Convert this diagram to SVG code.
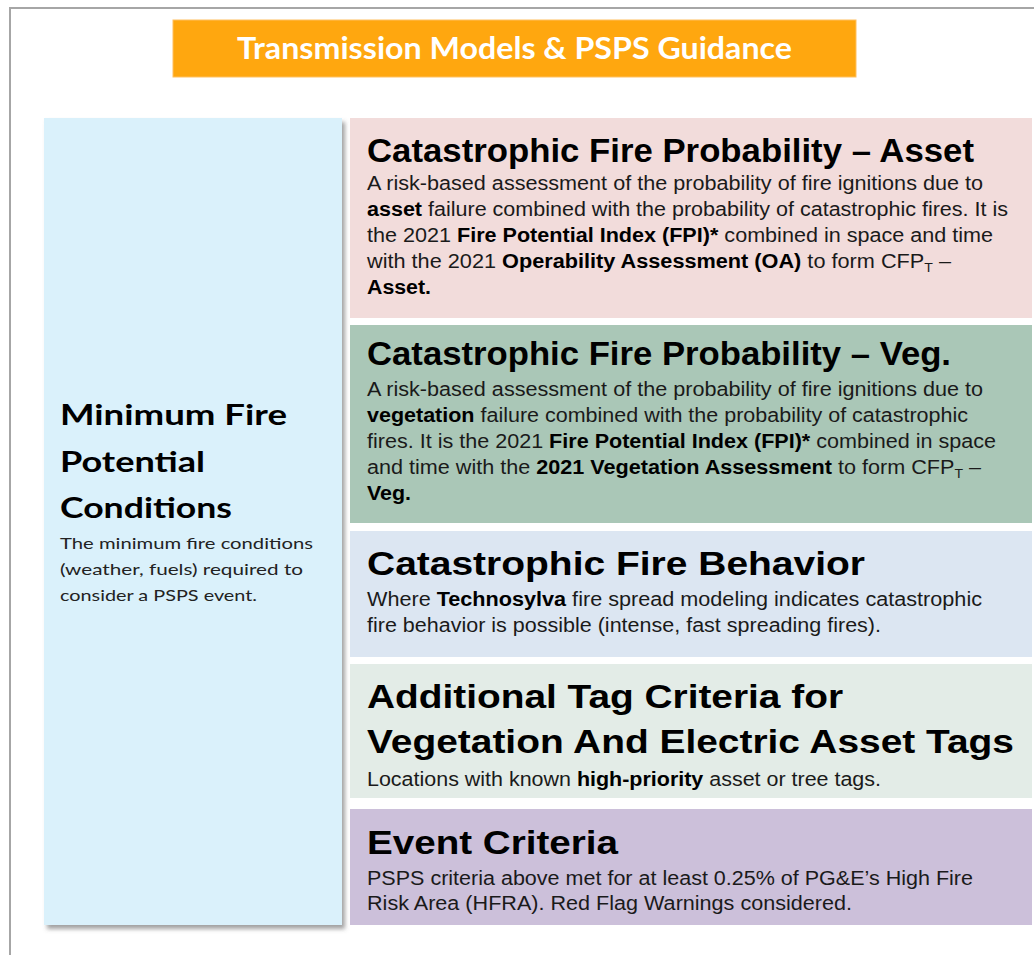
<svg xmlns="http://www.w3.org/2000/svg" width="1034" height="955" viewBox="0 0 1034 955">
<defs>
<filter id="shadow" x="-5%" y="-5%" width="115%" height="115%">
<feDropShadow dx="3" dy="4" stdDeviation="2" flood-color="#555" flood-opacity="0.55"/>
</filter>
<style>
.h{font-family:"Liberation Sans",Arial,sans-serif;font-weight:bold;font-size:33px;fill:#000}
.b{font-family:"Liberation Sans",Arial,sans-serif;font-size:20px;fill:#1a1a1a}
.b tspan.k{font-weight:bold;fill:#000}
.sub{font-size:13px}
.lh{font-family:Lato,"Open Sans",sans-serif;font-weight:bold;font-size:29px;fill:#000}
.lb{font-family:Lato,"Open Sans",sans-serif;font-size:16px;fill:#222}
.title{font-family:Lato,"Open Sans",sans-serif;font-weight:bold;font-size:30px;fill:#fff}
</style>
</defs>
<rect width="1034" height="955" fill="#fff"/>
<path d="M10 955 V8 H1034" fill="none" stroke="#a6a6a6" stroke-width="2"/>

<g id="title">
<rect x="173" y="20" width="683" height="57" fill="#FFA70F" stroke="#FFC060" stroke-width="1"/>
<text class="title" x="237" y="59" textLength="555" lengthAdjust="spacingAndGlyphs">Transmission Models &amp; PSPS Guidance</text>
</g>

<g id="min-fire-potential">
<rect x="44" y="118" width="298" height="807" fill="#DAF1FB" filter="url(#shadow)"/>
<text class="lh" x="60" y="425" textLength="227" lengthAdjust="spacingAndGlyphs">Minimum Fire</text>
<text class="lh" x="60" y="472" textLength="145" lengthAdjust="spacingAndGlyphs">Potential</text>
<text class="lh" x="60" y="518" textLength="172" lengthAdjust="spacingAndGlyphs">Conditions</text>
<text class="lb" x="60" y="549" textLength="253" lengthAdjust="spacingAndGlyphs">The minimum fire conditions</text>
<text class="lb" x="60" y="575" textLength="243" lengthAdjust="spacingAndGlyphs">(weather, fuels) required to</text>
<text class="lb" x="60" y="601" textLength="197" lengthAdjust="spacingAndGlyphs">consider a PSPS event.</text>
</g>

<g id="cfp-asset">
<rect x="350" y="118" width="682" height="200" fill="#F2DCDB"/>
<text class="h" x="367" y="162" textLength="607" lengthAdjust="spacingAndGlyphs">Catastrophic Fire Probability – Asset</text>
<text class="b" x="367" y="190" textLength="616" lengthAdjust="spacingAndGlyphs">A risk-based assessment of the probability of fire ignitions due to</text>
<text class="b" x="367" y="216" textLength="641" lengthAdjust="spacingAndGlyphs"><tspan class="k">asset</tspan> failure combined with the probability of catastrophic fires. It is</text>
<text class="b" x="367" y="242" textLength="626" lengthAdjust="spacingAndGlyphs">the 2021 <tspan class="k">Fire Potential Index (FPI)*</tspan> combined in space and time</text>
<text class="b" x="367" y="268" textLength="584" lengthAdjust="spacingAndGlyphs">with the 2021 <tspan class="k">Operability Assessment (OA)</tspan> to form CFP<tspan class="sub" dy="4">T</tspan><tspan dy="-4"> –</tspan></text>
<text class="b" x="367" y="294" textLength="64" lengthAdjust="spacingAndGlyphs"><tspan class="k">Asset.</tspan></text>
</g>

<g id="cfp-veg">
<rect x="350" y="325" width="682" height="198" fill="#AAC7B7"/>
<text class="h" x="367" y="365" textLength="584" lengthAdjust="spacingAndGlyphs">Catastrophic Fire Probability – Veg.</text>
<text class="b" x="367" y="396" textLength="616" lengthAdjust="spacingAndGlyphs">A risk-based assessment of the probability of fire ignitions due to</text>
<text class="b" x="367" y="422" textLength="601" lengthAdjust="spacingAndGlyphs"><tspan class="k">vegetation</tspan> failure combined with the probability of catastrophic</text>
<text class="b" x="367" y="448" textLength="629" lengthAdjust="spacingAndGlyphs">fires. It is the 2021 <tspan class="k">Fire Potential Index (FPI)*</tspan> combined in space</text>
<text class="b" x="367" y="474" textLength="614" lengthAdjust="spacingAndGlyphs">and time with the <tspan class="k">2021 Vegetation Assessment</tspan> to form CFP<tspan class="sub" dy="4">T</tspan><tspan dy="-4"> –</tspan></text>
<text class="b" x="367" y="500" textLength="44" lengthAdjust="spacingAndGlyphs"><tspan class="k">Veg.</tspan></text>
</g>

<g id="cf-behavior">
<rect x="350" y="531" width="682" height="126" fill="#DCE6F2"/>
<text class="h" x="367" y="575" textLength="498" lengthAdjust="spacingAndGlyphs">Catastrophic Fire Behavior</text>
<text class="b" x="367" y="606" textLength="615" lengthAdjust="spacingAndGlyphs">Where <tspan class="k">Technosylva</tspan> fire spread modeling indicates catastrophic</text>
<text class="b" x="367" y="632" textLength="514" lengthAdjust="spacingAndGlyphs">fire behavior is possible (intense, fast spreading fires).</text>
</g>

<g id="tag-criteria">
<rect x="350" y="664" width="682" height="134" fill="#E3ECE7"/>
<text class="h" x="367" y="708" textLength="476" lengthAdjust="spacingAndGlyphs">Additional Tag Criteria for</text>
<text class="h" x="367" y="753" textLength="647" lengthAdjust="spacingAndGlyphs">Vegetation And Electric Asset Tags</text>
<text class="b" x="367" y="786" textLength="514" lengthAdjust="spacingAndGlyphs">Locations with known <tspan class="k">high-priority</tspan> asset or tree tags.</text>
</g>

<g id="event-criteria">
<rect x="350" y="809" width="682" height="116" fill="#CCC0DA"/>
<text class="h" x="367" y="854" textLength="251" lengthAdjust="spacingAndGlyphs">Event Criteria</text>
<text class="b" x="367" y="885" textLength="606" lengthAdjust="spacingAndGlyphs">PSPS criteria above met for at least 0.25% of PG&amp;E’s High Fire</text>
<text class="b" x="367" y="910" textLength="485" lengthAdjust="spacingAndGlyphs">Risk Area (HFRA). Red Flag Warnings considered.</text>
</g>

<g id="connectors"/>
</svg>
